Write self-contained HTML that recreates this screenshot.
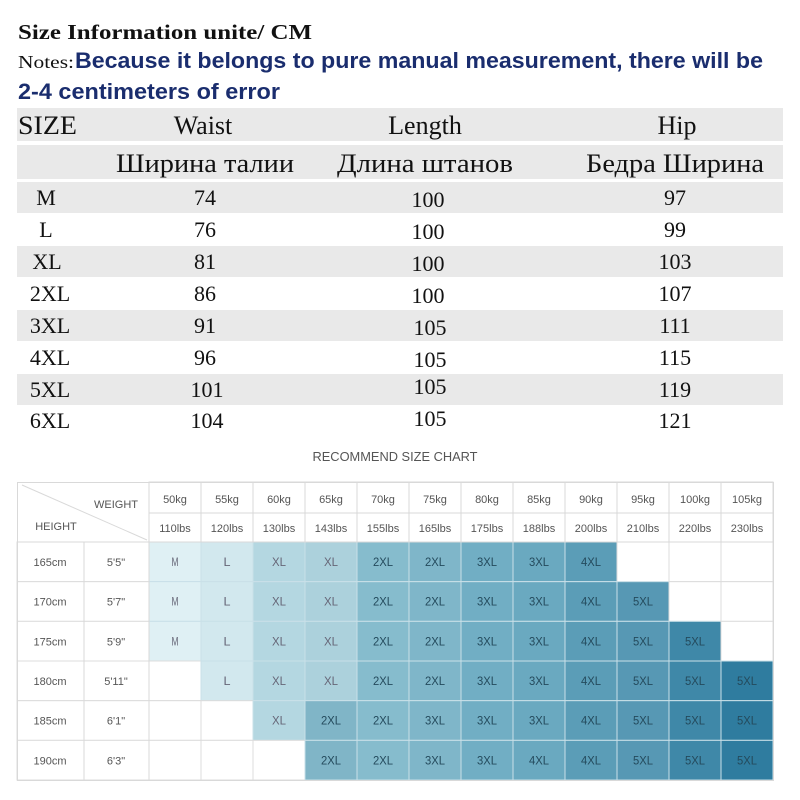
<!DOCTYPE html>
<html><head><meta charset="utf-8"><style>
html,body{margin:0;padding:0;background:#fff;}
svg{display:block;}
.s{font-family:"Liberation Serif",serif;fill:#111;}
.b{font-family:"Liberation Sans",sans-serif;}
</style></head><body>
<svg width="800" height="800" viewBox="0 0 800 800" xmlns="http://www.w3.org/2000/svg">
<text x="18" y="39" class="s" font-size="21" font-weight="bold" textLength="294" lengthAdjust="spacingAndGlyphs">Size Information unite/ CM</text>
<text x="18" y="68" class="s" font-size="18" textLength="56" lengthAdjust="spacingAndGlyphs">Notes:</text>
<text x="75" y="68" class="b" font-size="22" font-weight="bold" fill="#1a2d6e" textLength="688" lengthAdjust="spacingAndGlyphs">Because it belongs to pure manual measurement, there will be</text>
<text x="18" y="99" class="b" font-size="22" font-weight="bold" fill="#1a2d6e" textLength="262" lengthAdjust="spacingAndGlyphs">2-4 centimeters of error</text>
<g fill="#e9e9e9">
<rect x="17" y="108" width="766" height="33"/>
<rect x="17" y="145" width="766" height="34"/>
<rect x="17" y="182" width="766" height="31"/>
<rect x="17" y="246" width="766" height="31"/>
<rect x="17" y="310" width="766" height="31"/>
<rect x="17" y="374" width="766" height="31"/>
</g>
<g class="s" font-size="26" text-anchor="middle">
<text x="18" y="134" text-anchor="start" textLength="59" lengthAdjust="spacingAndGlyphs">SIZE</text>
<text x="203" y="134">Waist</text>
<text x="425" y="134">Length</text>
<text x="677" y="134">Hip</text>
<text x="205" y="172" textLength="178" lengthAdjust="spacingAndGlyphs">Ширина талии</text>
<text x="425" y="172" textLength="176" lengthAdjust="spacingAndGlyphs">Длина штанов</text>
<text x="675" y="172" textLength="178" lengthAdjust="spacingAndGlyphs">Бедра Ширина</text>
</g>
<g class="s" font-size="22" text-anchor="middle">
<text x="46" y="205">M</text><text x="205" y="205">74</text><text x="428" y="207">100</text><text x="675" y="205">97</text>
<text x="46" y="237">L</text><text x="205" y="237">76</text><text x="428" y="239">100</text><text x="675" y="237">99</text>
<text x="47" y="269">XL</text><text x="205" y="269">81</text><text x="428" y="271">100</text><text x="675" y="269">103</text>
<text x="50" y="301">2XL</text><text x="205" y="301">86</text><text x="428" y="303">100</text><text x="675" y="301">107</text>
<text x="50" y="333">3XL</text><text x="205" y="333">91</text><text x="430" y="335">105</text><text x="675" y="333">111</text>
<text x="50" y="365">4XL</text><text x="205" y="365">96</text><text x="430" y="367">105</text><text x="675" y="365">115</text>
<text x="50" y="397">5XL</text><text x="207" y="397">101</text><text x="430" y="394">105</text><text x="675" y="397">119</text>
<text x="50" y="428">6XL</text><text x="207" y="428">104</text><text x="430" y="426">105</text><text x="675" y="428">121</text>
</g>
<text x="395" y="461" class="b" font-size="13" fill="#555" text-anchor="middle" textLength="165" lengthAdjust="spacingAndGlyphs">RECOMMEND SIZE CHART</text>

<g id="cells"></g>
<g stroke="#d9d9d9" stroke-width="1" fill="none">
<rect x="17.5" y="482.5" width="756" height="298"/>
<line x1="17" y1="542" x2="773" y2="542"/>
<line x1="149" y1="513" x2="773" y2="513"/>
<line x1="84" y1="542" x2="84" y2="780"/>
<line x1="149" y1="482" x2="149" y2="780"/>
<line x1="22" y1="485" x2="147" y2="540"/>
</g>
<g class="b" font-size="11" fill="#555" text-anchor="middle" id="labels">
<text x="116" y="508">WEIGHT</text>
<text x="56" y="530">HEIGHT</text>
</g>
<script>
const NS="http://www.w3.org/2000/svg";
const cells=document.getElementById('cells'),labels=document.getElementById('labels');
const kg=[50,55,60,65,70,75,80,85,90,95,100,105],lb=[110,120,130,143,155,165,175,188,200,210,220,230];
const cm=['165cm','170cm','175cm','180cm','185cm','190cm'],ft=['5\'5"','5\'7"','5\'9"','5\'11"','6\'1"','6\'3"'];
const g=[
['M','L','XL','XL','2XL','2XL','3XL','3XL','4XL','','',''],
['M','L','XL','XL','2XL','2XL','3XL','3XL','4XL','5XL','',''],
['M','L','XL','XL','2XL','2XL','3XL','3XL','4XL','5XL','5XL',''],
['','L','XL','XL','2XL','2XL','3XL','3XL','4XL','5XL','5XL','5XL'],
['','','XL','2XL','2XL','3XL','3XL','3XL','4XL','5XL','5XL','5XL'],
['','','','2XL','2XL','3XL','3XL','4XL','4XL','5XL','5XL','5XL']];
const col=['#dff0f4','#d2e8ee','#b4d7e1','#acd1dc','#86bccd','#7fb6c9','#71aec4','#6aa9c0','#5b9db7','#5798b4','#3f88a8','#2f7c9f'];
function el(t,a,txt){const e=document.createElementNS(NS,t);for(const k in a)e.setAttribute(k,a[k]);if(txt)e.textContent=txt;return e;}
const ry=r=>542+r*39.67;
for(let r=0;r<6;r++){
 labels.appendChild(el('text',{x:50,y:ry(r)+24},cm[r]));
 labels.appendChild(el('text',{x:116,y:ry(r)+24},ft[r]));
 for(let c=0;c<12;c++){
  const x=149+52*c;
  const v=g[r][c];
  let fill=v?col[c]:'#fff';
  if(r>=4&&c==3)fill='#80b5c7';
  cells.appendChild(el('rect',{x:x,y:ry(r),width:52,height:39.67,fill:fill,stroke:v?'#c9e0e8':'#dcdcdc','stroke-width':1}));
  if(v)labels.appendChild(el('text',{x:x+26,y:ry(r)+24,fill:v.length>2||c>3?'#244a5c':'#667','font-size':12,textLength:v.length==3?20:(v.length==2?14:7),lengthAdjust:'spacingAndGlyphs'},v));
 }
}
for(let c=0;c<12;c++){
 const x=149+52*c;
 cells.appendChild(el('rect',{x:x,y:482,width:52,height:31,fill:'#fff',stroke:'#d9d9d9'}));
 cells.appendChild(el('rect',{x:x,y:513,width:52,height:29,fill:'#fff',stroke:'#d9d9d9'}));
 labels.appendChild(el('text',{x:x+26,y:503},kg[c]+'kg'));
 labels.appendChild(el('text',{x:x+26,y:532},lb[c]+'lbs'));
}
for(let r=0;r<6;r++){cells.appendChild(el('rect',{x:17,y:ry(r),width:67,height:39.67,fill:'#fff',stroke:'#dcdcdc'}));cells.appendChild(el('rect',{x:84,y:ry(r),width:65,height:39.67,fill:'#fff',stroke:'#dcdcdc'}));}
</script>
</svg>
</body></html>
